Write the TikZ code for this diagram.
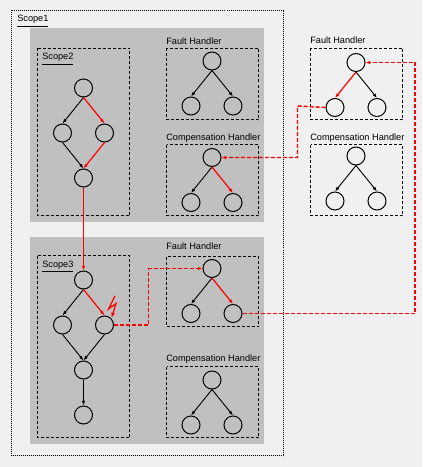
\documentclass[tikz,border=0pt]{standalone}
\usepackage{fontspec}
\setmainfont{Liberation Sans}
\usetikzlibrary{positioning,arrows.meta}
\definecolor{winbg}{HTML}{F0F0F0}
\definecolor{panelgray}{HTML}{C0C0C0}
\definecolor{faultred}{HTML}{FF0000}
\tikzset{
  main/.style={circle, minimum size = 13.5pt, inner sep=0pt, draw=black, line width=0.75pt},
  connect/.style={-{Latex[length=3.5pt,width=2.6pt]}, line width=0.7pt},
  fault/.style={connect, draw=faultred, line width=0.9pt},
  link/.style={connect, draw=faultred, line width=1.1pt, dash pattern=on 3pt off 1.5pt},
  box/.style={draw=black, line width=0.75pt, dash pattern=on 2.25pt off 1.5pt},
  title/.style={anchor=base west, inner sep=0pt, font=\fontsize{6.9}{8}\selectfont}
}

\begin{document}
\begin{tikzpicture}[x=0.75pt, y=-0.75pt, node distance = 33.75pt and 15.75pt, on grid]
    \fill[winbg] (0,0) rectangle (422,467);
    % scopes and handlers
    \draw[line width=0.75pt, dash pattern=on 0.75pt off 0.75pt] (11.5,10.5) rectangle (283.5,455.5);
    \node[title] (Scope1) at (17,22) {\underline{Scope1}};
    \fill[panelgray] (30,28) rectangle (264,222);
    \fill[panelgray] (30,237) rectangle (264,444);
    \draw[box] (37.5,48.5) rectangle (129.5,215.5);
    \draw[box] (37.5,255.5) rectangle (129.5,437.5);
    \draw[box] (166.5,48.5) rectangle (258.5,119.5);
    \draw[box] (166.5,144.5) rectangle (258.5,215.5);
    \draw[box] (166.5,256.5) rectangle (258.5,326.5);
    \draw[box] (166.5,366.5) rectangle (258.5,437.5);
    \draw[box] (310.5,48.5) rectangle (402.5,119.5);
    \draw[box] (310.5,144.5) rectangle (402.5,215.5);
    \node[title] (Scope2) at (42,60) {\underline{Scope2}};
    \node[title] (Scope3) at (42,267) {\underline{Scope3}};
    \node[title] (FH1) at (166,44.5) {Fault Handler};
    \node[title] (CH1) at (166,140.5) {Compensation Handler};
    \node[title] (FH2) at (166,249.5) {Fault Handler};
    \node[title] (CH2) at (166,361.5) {Compensation Handler};
    \node[title] (FHx) at (310,43.5) {Fault Handler};
    \node[title] (CHx) at (310,140.5) {Compensation Handler};

    % Scope2
    \node[main] (S2t) at (83.5,88) {};
    \node[main] (S2l) [below left=of S2t] {};
    \node[main] (S2r) [below right=of S2t] {};
    \node[main] (S2b) [below right=of S2l] {};
    % Scope3
    \node[main] (S3t) at (83.5,280) {};
    \node[main] (S3l) [below left=of S3t] {};
    \node[main] (S3r) [below right=of S3t] {};
    \node[main] (S3m) [below right=of S3l] {};
    \node[main] (S3b) [below=of S3m] {};
    % handlers
    \node[main] (F1t) at (212,61) {};
    \node[main] (F1l) [below left=of F1t] {};
    \node[main] (F1r) [below right=of F1t] {};
    \node[main] (C1t) at (212,157.5) {};
    \node[main] (C1l) [below left=of C1t] {};
    \node[main] (C1r) [below right=of C1t] {};
    \node[main] (F2t) at (212,268.5) {};
    \node[main] (F2l) [below left=of F2t] {};
    \node[main] (F2r) [below right=of F2t] {};
    \node[main] (C2t) at (212,380) {};
    \node[main] (C2l) [below left=of C2t] {};
    \node[main] (C2r) [below right=of C2t] {};
    \node[main] (Fxt) at (356,62.5) {};
    \node[main] (Fxl) [below left=of Fxt] {};
    \node[main] (Fxr) [below right=of Fxt] {};
    \node[main] (Cxt) at (356,156) {};
    \node[main] (Cxl) [below left=of Cxt] {};
    \node[main] (Cxr) [below right=of Cxt] {};

    \path (S2t.south) edge [connect] (S2l.north)
          (S2l.south) edge [connect] (S2b.north)
          (S3t.south) edge [connect] (S3l.north)
          (S3l.south) edge [connect] (S3m.north)
          (S3r.south) edge [connect] (S3m.north)
          (S3m.south) edge [connect] (S3b.north)
          (F1t.south) edge [connect] (F1l.north)
          (F1t.south) edge [connect] (F1r.north)
          (C1t.south) edge [connect] (C1l.north)
          (F2t.south) edge [connect] (F2l.north)
          (C2t.south) edge [connect] (C2l.north)
          (C2t.south) edge [connect] (C2r.north)
          (Fxt.south) edge [connect] (Fxr.north)
          (Cxt.south) edge [connect] (Cxl.north)
          (Cxt.south) edge [connect] (Cxr.north);
    \path (S2t.south) edge [fault] (S2r.north)
          (S2r.south) edge [fault] (S2b.north)
          (S3t.south) edge [fault] (S3r.north)
          (F2t.south) edge [fault] (F2r.north)
          (Fxt.south) edge [fault] (Fxl.north)
          (C1t.south) edge [fault] (C1r.north);
    \draw[fault, line width=1.1pt] (S2b.south) -- (S3t.north);

    % the fault
    \draw[fault, -{Latex[length=4pt,width=3pt]}] (115,296) -- (108.5,309) -- (116,303.5) -- (111.5,318);

    \coordinate (bendS) at (148.5,325);
    \coordinate (bendR) at (415,62.5);
    \coordinate (bendL) at (297.5,106);
    \draw[link] (S3r.east) -- (bendS) |- (F2t.west);
    \draw[link] (F2r.east) -| (bendR) -- (Fxt.east);
    \draw[link] (Fxl.west) -- (bendL) |- (C1t.east);
\end{tikzpicture}
\end{document}
